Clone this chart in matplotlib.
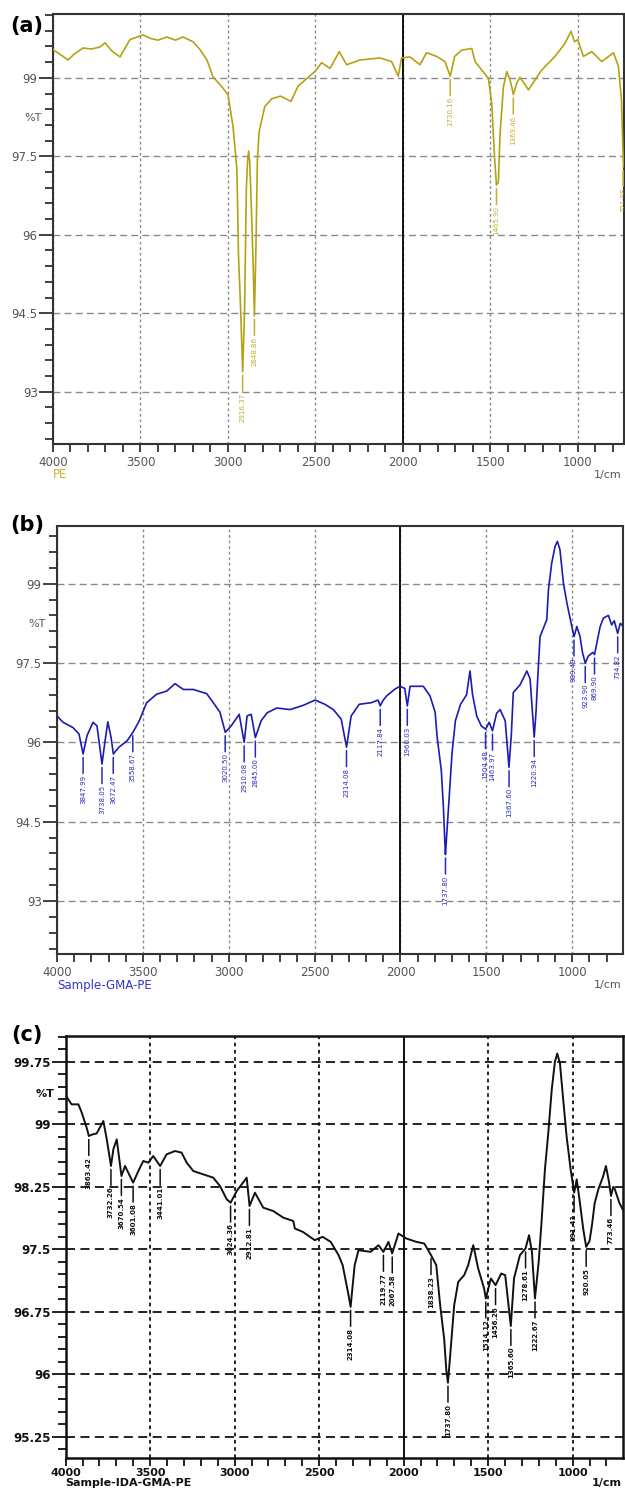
import matplotlib.pyplot as plt
from matplotlib.ticker import MultipleLocator, FuncFormatter

# ---- (a) PE ----
pe_wn = [4000, 3960, 3914, 3880, 3829, 3780, 3731, 3703, 3660, 3617, 3600, 3560, 3486, 3440,
         3400, 3350, 3300, 3257, 3200, 3160, 3120, 3086, 3040, 3000, 2971, 2949, 2940, 2928,
         2916, 2905, 2895, 2888, 2882, 2876, 2866, 2856, 2849, 2840, 2832, 2822, 2790, 2750,
         2700, 2640, 2600, 2545, 2503, 2465, 2417, 2364, 2322, 2246, 2131, 2065, 2027, 2008,
         1960, 1903, 1865, 1808, 1760, 1730, 1705, 1664, 1607, 1588, 1512, 1493, 1477, 1466,
         1455, 1445, 1426, 1407, 1388, 1369, 1350, 1331, 1283, 1207, 1131, 1074, 1040, 1020,
         1001, 969, 921, 864, 797, 769, 752, 746, 740]
pe_t = [99.54, 99.45, 99.34, 99.45, 99.57, 99.55, 99.59, 99.67, 99.50, 99.40, 99.50, 99.73,
        99.82, 99.75, 99.72, 99.78, 99.72, 99.78, 99.69, 99.54, 99.34, 99.02, 98.85, 98.68,
        98.06, 97.24, 95.60, 94.60, 93.38, 94.60, 96.90, 97.40, 97.60, 97.40, 96.50, 95.40,
        94.45, 95.80, 97.43, 97.97, 98.45, 98.60, 98.65, 98.55, 98.84, 99.00, 99.12, 99.29,
        99.18, 99.50, 99.25, 99.34, 99.38, 99.31, 99.03, 99.38, 99.40, 99.25, 99.48, 99.41,
        99.31, 99.03, 99.41, 99.53, 99.56, 99.31, 98.99, 98.52, 97.50, 96.95, 97.00, 97.94,
        98.83, 99.12, 98.96, 98.68, 98.90, 99.01, 98.77, 99.15, 99.41, 99.66, 99.89, 99.69,
        99.73, 99.41, 99.50, 99.31, 99.48, 99.22, 98.60, 97.95, 97.30]
pe_peak_wn = [2916.37, 2848.86, 1730.16, 1465.90, 1369.46, 742]
pe_peak_t = [93.38, 94.45, 99.03, 96.95, 98.68, 97.30]
pe_peak_txt = ["2916.37", "2848.86", "1730.16", "1465.90", "1369.46", "721.98"]

# ---- (b) Sample-GMA-PE ----
gma_wn = [4000, 3965, 3907, 3872, 3848, 3825, 3790, 3767, 3738, 3720, 3704, 3685, 3672, 3639,
          3592, 3558, 3522, 3478, 3420, 3361, 3313, 3264, 3206, 3128, 3090, 3051, 3020, 2986,
          2939, 2910, 2893, 2869, 2845, 2811, 2776, 2720, 2643, 2566, 2497, 2440, 2391, 2345,
          2314, 2287, 2240, 2170, 2130, 2118, 2100, 2080, 2031, 2002, 1975, 1960, 1944, 1867,
          1828, 1798, 1786, 1762, 1750, 1742, 1738, 1730, 1716, 1700, 1680, 1650, 1615, 1595,
          1580, 1556, 1529, 1504, 1483, 1464, 1440, 1420, 1390, 1368, 1354, 1343, 1303, 1264,
          1245, 1232, 1221, 1210, 1203, 1187, 1148, 1138, 1119, 1100, 1086, 1071, 1051, 1031,
          1002, 989, 973, 954, 940, 924, 906, 880, 870, 855, 837, 818, 789, 770, 755, 735,
          720, 705]
gma_t = [96.50, 96.38, 96.28, 96.16, 95.78, 96.13, 96.38, 96.31, 95.59, 96.03, 96.39, 96.09,
         95.78, 95.91, 96.03, 96.19, 96.40, 96.75, 96.91, 96.97, 97.11, 97.00, 97.00, 96.92,
         96.75, 96.57, 96.19, 96.31, 96.53, 96.00, 96.50, 96.53, 96.09, 96.41, 96.56, 96.65,
         96.62, 96.70, 96.80, 96.72, 96.62, 96.44, 95.91, 96.50, 96.72, 96.75, 96.80, 96.69,
         96.80, 96.88, 97.01, 97.06, 97.02, 96.69, 97.06, 97.06, 96.88, 96.57, 96.09, 95.47,
         94.78, 94.16, 93.88, 94.28, 94.97, 95.78, 96.41, 96.72, 96.90, 97.35, 96.90, 96.50,
         96.31, 96.25, 96.38, 96.22, 96.55, 96.62, 96.41, 95.53, 96.16, 96.94, 97.09, 97.35,
         97.20, 96.60, 96.10, 96.60, 97.07, 98.00, 98.32, 98.89, 99.39, 99.70, 99.80, 99.64,
         99.01, 98.64, 98.19, 98.00, 98.19, 98.00, 97.70, 97.50, 97.63, 97.70, 97.66, 97.90,
         98.19, 98.35, 98.40, 98.22, 98.30, 98.06, 98.25, 98.20]
gma_peak_wn = [3847.99, 3738.05, 3672.47, 3558.67, 3020.50, 2910.08, 2845.00, 2314.08, 2117.84,
               1960.03, 1737.80, 1504.48, 1463.97, 1367.60, 1220.94, 989.49, 923.90, 869.90,
               734.82]
gma_peak_t = [95.78, 95.59, 95.78, 96.19, 96.19, 96.00, 96.09, 95.91, 96.69, 96.69, 93.88,
              96.25, 96.22, 95.53, 96.10, 98.00, 97.50, 97.66, 98.06]

# ---- (c) Sample-IDA-GMA-PE ----
ida_wn = [4000, 3985, 3965, 3925, 3905, 3876, 3863, 3840, 3817, 3777, 3757, 3732, 3718, 3698,
          3670, 3649, 3625, 3601, 3570, 3541, 3511, 3482, 3441, 3403, 3353, 3314, 3284, 3245,
          3186, 3127, 3087, 3047, 3024, 2988, 2929, 2912, 2880, 2831, 2772, 2712, 2653, 2644,
          2597, 2526, 2479, 2432, 2385, 2361, 2326, 2314, 2290, 2267, 2196, 2149, 2120, 2090,
          2068, 2031, 1984, 1925, 1878, 1838, 1807, 1784, 1760, 1748, 1738, 1725, 1701, 1677,
          1642, 1618, 1588, 1559, 1524, 1514, 1484, 1456, 1423, 1399, 1366, 1347, 1312, 1279,
          1258, 1241, 1223, 1201, 1185, 1164, 1144, 1124, 1105, 1091, 1075, 1056, 1036, 1012,
          991, 976, 957, 937, 920, 900, 885, 870, 848, 819, 803, 784, 773, 760, 750, 724, 704]
ida_t = [99.35, 99.30, 99.24, 99.24, 99.14, 98.96, 98.86, 98.88, 98.89, 99.04, 98.82, 98.50,
         98.70, 98.82, 98.38, 98.50, 98.40, 98.30, 98.44, 98.56, 98.54, 98.62, 98.50, 98.64,
         98.68, 98.66, 98.54, 98.44, 98.40, 98.36, 98.26, 98.10, 98.06, 98.20, 98.36, 98.02,
         98.18, 98.00, 97.96, 97.88, 97.84, 97.75, 97.71, 97.61, 97.65, 97.59, 97.43, 97.31,
         96.95, 96.81, 97.31, 97.49, 97.47, 97.55, 97.47, 97.59, 97.45, 97.69, 97.63, 97.59,
         97.57, 97.43, 97.31, 96.83, 96.42, 96.06, 95.90, 96.22, 96.83, 97.11, 97.19, 97.31,
         97.55, 97.27, 97.03, 96.91, 97.15, 97.07, 97.21, 97.19, 96.58, 97.15, 97.43, 97.51,
         97.67, 97.47, 96.91, 97.35, 97.80, 98.46, 98.90, 99.41, 99.75, 99.85, 99.73, 99.30,
         98.86, 98.46, 98.18, 98.34, 98.06, 97.74, 97.53, 97.60, 97.80, 98.05, 98.22, 98.38,
         98.50, 98.30, 98.14, 98.25, 98.22, 98.06, 97.98]
ida_peak_wn = [3863.42, 3732.26, 3670.54, 3601.08, 3441.01, 3024.36, 2912.81, 2314.08, 2119.77,
               2067.58, 1838.23, 1737.80, 1514.12, 1456.26, 1365.60, 1278.61, 1222.67, 991.41,
               920.05, 773.46]
ida_peak_t = [98.86, 98.50, 98.38, 98.30, 98.50, 98.06, 98.02, 96.81, 97.47, 97.45, 97.43,
              95.90, 96.91, 97.07, 96.58, 97.51, 96.91, 98.18, 97.53, 98.14]

W, H = 625, 1490
fig = plt.figure(figsize=(W / 100, H / 100), dpi=100)


def px_axes(left, top, right, bottom):
    return fig.add_axes([left / W, 1 - bottom / H, (right - left) / W, (bottom - top) / H])


def draw_panel(ax, wn, t, pk_wn, pk_t, pk_txt, color, txt_color, xlim, ylim, ymaj, ymin,
               bold=False):
    weight = 'bold' if bold else 'normal'
    gcol = '#111111' if bold else '#8a8a8a'
    glw = 1.3 if bold else 1.0
    ax.plot(wn, t, color=color, lw=1.4 if bold else 1.2, zorder=3)
    ax.set_xlim(*xlim)
    ax.set_ylim(*ylim)
    ax.xaxis.set_major_locator(MultipleLocator(500))
    ax.xaxis.set_minor_locator(MultipleLocator(100))
    ax.yaxis.set_major_locator(MultipleLocator(ymaj))
    ax.yaxis.set_minor_locator(MultipleLocator(ymin))
    ax.yaxis.set_major_formatter(FuncFormatter(lambda v, p: '%g' % round(v, 2)))
    ax.xaxis.grid(True, which='major', color=gcol, lw=glw, linestyle=(0, (2, 2)))
    ax.yaxis.grid(True, which='major', color=gcol, lw=glw, linestyle=(0, (5, 3)))
    ax.axvline(2000, color='#111111', lw=1.4, zorder=2)
    spc = '#111111' if bold else '#333333'
    for s in ax.spines.values():
        s.set_color(spc)
        s.set_linewidth(1.8 if bold else 1.5)
    lc = '#111111' if bold else '#555555'
    ax.tick_params(axis='y', which='major', length=10, width=1.3, color=spc, pad=1,
                   labelsize=8.5, labelcolor=lc)
    ax.tick_params(axis='y', which='minor', length=6, width=1.3, color=spc)
    ax.tick_params(axis='x', which='both', length=6, width=1.3, color=spc,
                   pad=1.5 if bold else 2.5, labelsize=8 if bold else 8.5, labelcolor=lc)
    for lab in ax.get_xticklabels() + ax.get_yticklabels():
        lab.set_fontweight(weight)
    for w, tt, s in zip(pk_wn, pk_t, pk_txt):
        ax.annotate('', xy=(w, tt), xytext=(0, -14), textcoords='offset points',
                    arrowprops=dict(arrowstyle='-', color=txt_color, lw=1.1,
                                    shrinkA=0, shrinkB=2.5), annotation_clip=False)
        ax.annotate(s, xy=(w, tt), xytext=(0, -15), textcoords='offset points',
                    rotation=90, ha='center', va='top', fontsize=5,
                    fontweight=weight, color=txt_color, clip_on=True)


ax_a = px_axes(53, 14, 624, 444)
draw_panel(ax_a, pe_wn, pe_t, pe_peak_wn, pe_peak_t, pe_peak_txt, '#b5a214', '#c2ae2c',
           (4000, 737), (92.0, 100.22), 1.5, 0.3)

ax_b = px_axes(57, 526, 623, 954)
draw_panel(ax_b, gma_wn, gma_t, gma_peak_wn, gma_peak_t, ['%.2f' % v for v in gma_peak_wn],
           '#1c1cb0', '#2a2ab8', (4000, 704), (92.0, 100.09), 1.5, 0.3)

ax_c = px_axes(65.7, 1036, 623, 1457.7)
draw_panel(ax_c, ida_wn, ida_t, ida_peak_wn, ida_peak_t, ['%.2f' % v for v in ida_peak_wn],
           '#111111', '#111111', (4000, 702), (95.0, 100.06), 0.75, 0.15, bold=True)

# %T labels
for ax, yv, bold in [(ax_a, 98.24, False), (ax_b, 98.24, False), (ax_c, 99.37, True)]:
    ax.annotate('%T', xy=(0, yv), xycoords=('axes fraction', 'data'), xytext=(-8, 0),
                textcoords='offset points', ha='right', va='center', fontsize=8,
                color='#111111' if bold else '#555555',
                fontweight='bold' if bold else 'normal')


def ftext(x, y, s, **kw):
    fig.text(x / W, 1 - y / H, s, **kw)


ftext(27, 26, '(a)', ha='center', va='center', fontsize=15, fontweight='bold')
ftext(27, 525, '(b)', ha='center', va='center', fontsize=15, fontweight='bold')
ftext(27, 1035, '(c)', ha='center', va='center', fontsize=15, fontweight='bold')

ftext(53, 475, 'PE', ha='left', va='center', fontsize=8.5, color='#c8b432')
ftext(594, 475, '1/cm', ha='left', va='center', fontsize=8, color='#555555')
ftext(57, 985, 'Sample-GMA-PE', ha='left', va='center', fontsize=8.5, color='#3535c0')
ftext(594, 985, '1/cm', ha='left', va='center', fontsize=8, color='#555555')
ftext(65, 1478, 'Sample-IDA-GMA-PE', ha='left', va='top', fontsize=8,
      fontweight='bold', color='#111111')
ftext(592, 1478, '1/cm', ha='left', va='top', fontsize=8, fontweight='bold',
      color='#111111')

fig.savefig('out.png', dpi=100)
